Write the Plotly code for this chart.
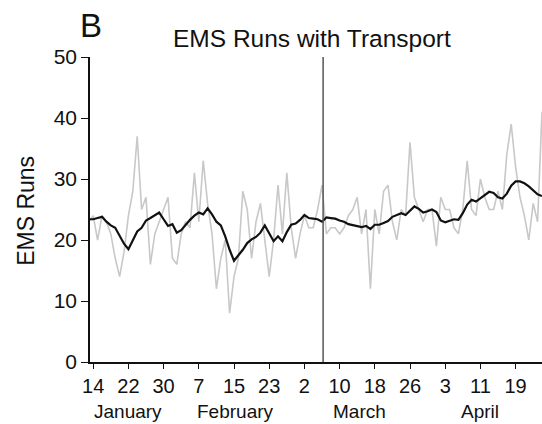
import pandas as pd
import plotly.graph_objects as go

# Daily EMS runs with transport, from 13 Jan 2020
start_date = "2020-01-13"
daily_runs = [
    23, 24, 20, 24, 23, 21, 17, 14, 18, 24,
    28, 37, 25, 27, 16, 21, 23, 25, 27, 17,
    16, 21, 23, 22, 31, 23, 33, 26, 21, 12,
    17, 20, 8, 14, 17, 28, 25, 17, 23, 26,
    20, 14, 20, 29, 21, 31, 22, 17, 21, 24,
    22, 22, 25, 29, 21, 22, 22, 21, 22, 24,
    25, 27, 21, 25, 12, 25, 21, 28, 29, 23,
    20, 25, 24, 36, 27, 25, 23, 25, 25, 19,
    27, 25, 25, 22, 21, 25, 33, 25, 24, 30,
    27, 25, 25, 28, 25, 34, 39, 32, 27, 24,
    20, 26, 23, 41,
]
# Smoothed trend of the daily runs
trend_runs = [
    23.4, 23.4, 23.6, 23.8, 23.0, 22.4, 22.0, 20.8, 19.4, 18.5,
    20.0, 21.4, 22.0, 23.2, 23.6, 24.0, 24.5, 23.4, 22.3, 22.6,
    21.2, 21.6, 22.5, 23.3, 24.0, 24.5, 24.2, 25.2, 24.2, 23.0,
    22.4, 20.6, 18.4, 16.6, 17.5, 18.4, 19.5, 20.1, 20.5, 21.2,
    22.4, 21.2, 19.8, 20.6, 19.8, 21.3, 22.5, 22.7, 23.3, 24.1,
    23.6, 23.5, 23.4, 23.0, 23.7, 23.6, 23.5, 23.2, 23.0, 22.6,
    22.4, 22.2, 22.1, 22.3, 21.8, 22.5, 22.5, 22.8, 23.1, 23.8,
    24.1, 24.4, 24.1, 24.8, 25.5, 25.1, 24.5, 24.7, 25.0, 24.6,
    23.2, 22.9, 23.2, 23.4, 23.3, 24.4, 25.8, 26.6, 26.3, 26.8,
    27.4, 27.9, 27.7, 27.0, 26.8, 27.6, 28.9, 29.6, 29.6, 29.3,
    28.8, 28.2, 27.5, 27.2,
]
event_date = "2020-03-06 06:00"

tick_dates = ["2020-01-14", "2020-01-22", "2020-01-30", "2020-02-07", "2020-02-15",
              "2020-02-23", "2020-03-02", "2020-03-10", "2020-03-18", "2020-03-26",
              "2020-04-03", "2020-04-11", "2020-04-19"]
tick_labels = ["14", "22", "30", "7", "15", "23", "2", "10", "18", "26", "3", "11", "19"]
month_names = ["January", "February", "March", "April"]
month_dates = ["2020-01-22", "2020-02-15 06:00", "2020-03-14 12:00", "2020-04-11"]
y_ticks = [0, 10, 20, 30, 40, 50]

dates = pd.date_range(start_date, periods=len(daily_runs), freq="D")

FONT = "Liberation Sans, Arial, Helvetica, sans-serif"

fig = go.Figure()
fig.add_trace(go.Scatter(
    x=dates, y=daily_runs, mode="lines",
    line=dict(color="#c8c8c8", width=1.6), hoverinfo="skip",
))
fig.add_trace(go.Scatter(
    x=dates[:len(trend_runs)], y=trend_runs, mode="lines",
    line=dict(color="#111111", width=2.2),
))

# Event marker
fig.add_shape(type="line", xref="x", yref="y",
              x0=event_date, x1=event_date, y0=0, y1=50,
              line=dict(color="#555555", width=1.5))

first_tick = pd.Timestamp(tick_dates[0])
x_start = first_tick - pd.Timedelta(days=0.73)
x_end = first_tick + pd.Timedelta(days=102.0)

fig.update_layout(
    width=542, height=424,
    margin=dict(l=90, r=0, t=57, b=62),
    paper_bgcolor="white", plot_bgcolor="white",
    showlegend=False,
    font=dict(family=FONT, color="#111111"),
    xaxis=dict(
        range=[x_start, x_end],
        tickvals=pd.to_datetime(tick_dates), ticktext=tick_labels,
        ticks="outside", ticklen=5, tickwidth=1.4, tickcolor="#111111",
        showline=True, linecolor="#111111", linewidth=1.5,
        showgrid=False, zeroline=False,
        tickfont=dict(size=20, family=FONT, color="#111111"),
    ),
    yaxis=dict(
        range=[0, 50], tickvals=y_ticks,
        ticks="outside", ticklen=7, tickwidth=1.4, tickcolor="#111111",
        showline=True, linecolor="#111111", linewidth=1.5,
        showgrid=False, zeroline=False,
        tickfont=dict(size=21, family=FONT, color="#111111"),
    ),
)

annotations = [
    dict(text="B", xref="paper", yref="paper", x=0.002, y=1.102,
         xanchor="center", yanchor="middle", showarrow=False,
         font=dict(size=33, family=FONT, color="#111111")),
    dict(text="EMS Runs with Transport", xref="paper", yref="paper", x=0.491, y=1.062,
         xanchor="center", yanchor="middle", showarrow=False,
         font=dict(size=24.5, family=FONT, color="#111111")),
    dict(text="EMS Runs", xref="paper", yref="paper", x=-0.142, y=0.495,
         xanchor="center", yanchor="middle", textangle=-90, showarrow=False,
         font=dict(size=23, family=FONT, color="#111111")),
]
for name, d in zip(month_names, month_dates):
    annotations.append(dict(
        text=name, xref="x", yref="paper", x=pd.Timestamp(d), y=0,
        xanchor="center", yanchor="middle", yshift=-49, showarrow=False,
        font=dict(size=19, family=FONT, color="#111111")))
fig.update_layout(annotations=annotations)

fig.write_html("out.html")
